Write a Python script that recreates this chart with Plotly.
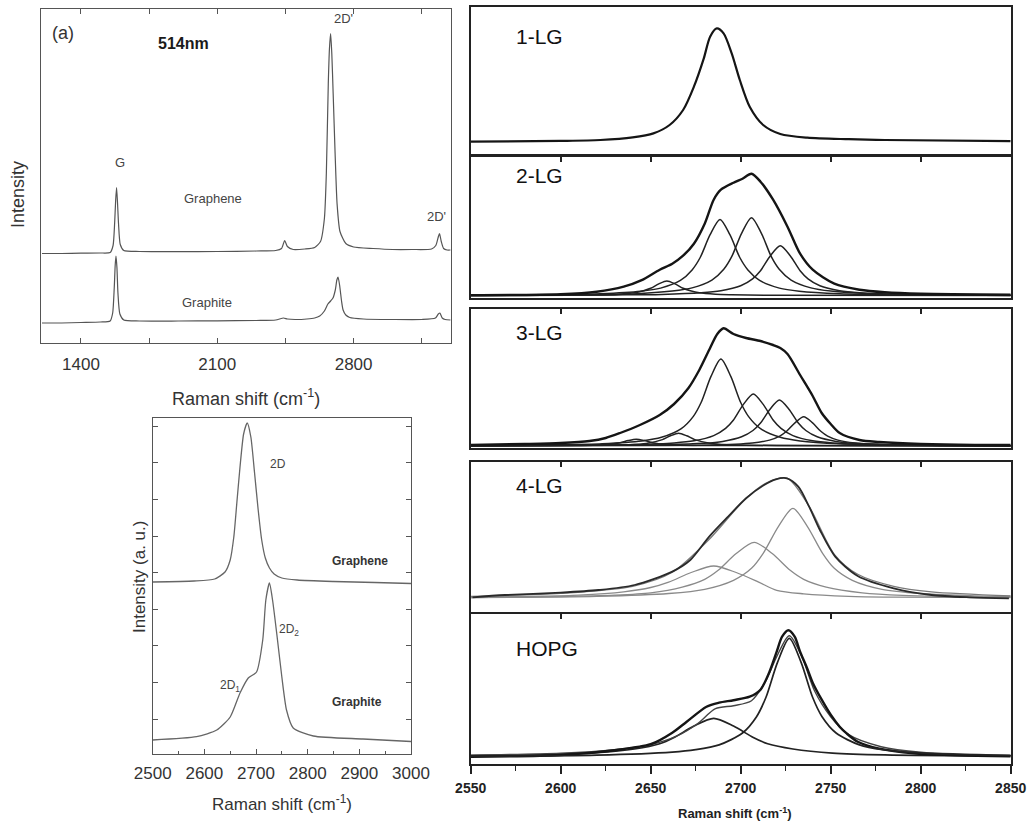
import plotly.graph_objects as go

W, H = 1031, 825
def fx(p): return p / W
def fy(p): return 1 - p / H

FONT = "Liberation Sans, Arial, sans-serif"

# ---------------- Panel (a): full spectra, 514 nm ----------------
a_graphene_x = [1200, 1300, 1400, 1500, 1550, 1565, 1573, 1578, 1583, 1588, 1593, 1602, 1620, 1700, 1900, 2100,
                2300, 2400, 2430, 2446, 2460, 2490, 2550, 2600, 2630, 2650, 2660, 2670, 2676, 2682, 2688, 2695,
                2705, 2715, 2730, 2760, 2800, 2900, 3000, 3100, 3200, 3222, 3234, 3241, 3250, 3262, 3280, 3297]
a_graphene_y = [0, 0, 0.3, 0.5, 1, 8, 30, 52, 66, 50, 30, 9, 3, 2, 1.8, 2,
                2.5, 3, 5, 13, 7, 4, 4.5, 6, 12, 35, 80, 170, 205, 220, 200, 160,
                100, 50, 22, 10, 6.5, 5, 4, 4, 4.5, 8, 16, 20, 12, 5, 3.5, 3.5]
a_graphite_x = [1200, 1300, 1400, 1500, 1550, 1563, 1571, 1576, 1580, 1585, 1590, 1600, 1620, 1700, 1900, 2100,
                2300, 2400, 2440, 2460, 2500, 2560, 2600, 2626, 2650, 2668, 2682, 2694, 2706, 2714, 2720, 2728,
                2738, 2746, 2760, 2780, 2850, 3000, 3150, 3220, 3235, 3243, 3255, 3270, 3297]
a_graphite_y = [0, 0, 0.5, 1, 2, 10, 35, 58, 67, 55, 30, 9, 3, 2, 2, 2.2,
                2.5, 3, 5, 4, 3.5, 4, 5, 7, 12, 19, 22, 25, 33, 43, 46, 38,
                22, 13, 8, 5.5, 4, 3.5, 3.5, 5, 9, 10, 5, 3.5, 3]
a_offsets = {"graphene": 89.5, "graphite": 20}

# ---------------- Panel (b): 2D band graphene vs graphite ----------------
b_graphene_x = [2500, 2580, 2620, 2640, 2650, 2657, 2663, 2669, 2676, 2683, 2690, 2697, 2704, 2711, 2718,
                2726, 2735, 2750, 2780, 2850, 2930, 3000]
b_graphene_y = [0, 1, 3, 10, 22, 45, 80, 115, 148, 159, 145, 110, 73, 42, 24,
                14, 8, 4, 2, 0.5, -0.5, -1.5]
b_graphite_x = [2500, 2585, 2624, 2650, 2669, 2685, 2701, 2713, 2719, 2726, 2732, 2740, 2750, 2759, 2772,
                2811, 2907, 3000]
b_graphite_y = [0, 3.3, 10, 23, 47, 62, 68, 100, 140, 157, 140, 107, 63, 30, 12,
                4, 1, -1.5]
b_offsets = {"graphene": 158, "graphite": 0}

# ---------------- Right: N-LG and HOPG 2D band fits ----------------
lg1_x = [2550, 2600, 2622, 2640, 2651.5, 2660.5, 2668, 2674, 2679.5, 2683, 2686.7, 2690.5, 2695, 2699.5,
         2705, 2712.5, 2722, 2737, 2760, 2780, 2850]
lg1_y = [0, 0.8, 1.7, 4.3, 8.3, 16.7, 31.7, 55, 83.3, 105, 113.3, 108.3, 88.3, 61.7,
         35, 16.7, 7.7, 4, 2.5, 1.7, 0.5]

lg2_x = [2550, 2600, 2620, 2635, 2645, 2655, 2662, 2668, 2674, 2680, 2685, 2689, 2696, 2701, 2706, 2711,
         2718, 2726, 2733, 2740, 2752, 2766, 2780, 2800, 2850]
lg2_y = [0.5, 1.5, 4, 9, 15.5, 26, 32, 40, 52, 72, 96, 106, 113, 117, 122, 114,
         96, 69, 42, 26, 12, 6, 3.5, 2, 1]
lg2_cA_x = [2550, 2605, 2623, 2632, 2641, 2646, 2650, 2654.5, 2659, 2663.5, 2668, 2672, 2677, 2686, 2695, 2713, 2850]
lg2_cA_y = [0.2, 0.5, 1.0, 1.5, 2.9, 5.0, 7.4, 11.8, 14.7, 11.8, 7.4, 5.0, 2.9, 1.5, 1.0, 0.5, 0.1]
lg2_cB_x = [2550, 2600, 2622, 2644.5, 2655.5, 2666.5, 2673, 2677.5, 2683, 2688.5, 2694, 2699.5, 2704, 2710.5,
            2721.5, 2732.5, 2755, 2790, 2850]
lg2_cB_y = [0.5, 1.2, 2.0, 4.5, 7.6, 15.3, 25.8, 38.2, 61, 76.3, 61, 38.2, 25.8, 15.3, 7.6, 4.5, 2.0, 0.9, 0.4]
lg2_cC_x = [2550, 2620, 2640, 2662, 2673, 2684, 2690.6, 2695, 2700.5, 2706, 2711.5, 2717, 2721.4, 2728,
            2739, 2750, 2772, 2800, 2850]
lg2_cC_y = [0.5, 1.0, 1.7, 4.6, 7.8, 15.6, 26.4, 39, 62.4, 78, 62.4, 39, 26.4, 15.6, 7.8, 4.6, 2.0, 1.0, 0.4]
lg2_cD_x = [2550, 2630, 2656, 2678, 2689, 2700, 2706.6, 2711, 2716.5, 2722, 2727.5, 2733, 2737.4, 2744,
            2755, 2766, 2788, 2820, 2850]
lg2_cD_y = [0.3, 0.8, 1.3, 2.9, 5.0, 10, 16.9, 25, 40, 50, 40, 25, 16.9, 10, 5.0, 2.9, 1.3, 0.6, 0.3]

lg3_x = [2550, 2580, 2600, 2616, 2625, 2633, 2644, 2655, 2663, 2671, 2677, 2683, 2687, 2690.5, 2696, 2703,
         2711, 2718, 2722, 2726, 2733, 2740, 2745, 2750, 2755, 2766, 2777, 2800, 2830, 2850]
lg3_y = [1, 2, 3, 5, 8, 13, 21, 31, 42, 58, 76, 98, 112, 117.7, 112, 108,
         105, 101, 98, 92, 71, 50, 33, 22, 13, 6, 4, 2, 1, 1]
lg3_c1_x = [2550, 2605, 2624, 2633, 2637.5, 2642, 2646.5, 2651, 2660, 2680, 2850]
lg3_c1_y = [0.1, 0.5, 1.3, 3.3, 5.4, 6.7, 5.4, 3.3, 1.3, 0.5, 0.1]
lg3_c2_x = [2550, 2610, 2638.5, 2647.5, 2656.5, 2661, 2665.5, 2670, 2674.5, 2683.5, 2692.5, 2720, 2850]
lg3_c2_y = [0.1, 0.7, 1.3, 2.5, 6.4, 10.2, 12.7, 10.2, 6.4, 2.5, 1.3, 0.5, 0.1]
lg3_c3_x = [2550, 2600, 2623, 2645, 2656, 2667, 2673.6, 2678, 2683.5, 2689, 2694.5, 2700, 2704.4, 2711,
            2722, 2733, 2755, 2790, 2850]
lg3_c3_y = [0.6, 1.3, 2.3, 5.1, 8.7, 17.4, 29.4, 43.5, 69.6, 87, 69.6, 43.5, 29.4, 17.4, 8.7, 5.1, 2.3, 1.0, 0.4]
lg3_c4_x = [2550, 2620, 2641, 2663, 2674, 2685, 2691.6, 2696, 2701.5, 2707, 2712.5, 2718, 2722.4, 2729,
            2740, 2751, 2773, 2810, 2850]
lg3_c4_y = [0.3, 0.8, 1.4, 3.1, 5.2, 10.4, 17.6, 26, 41.6, 52, 41.6, 26, 17.6, 10.4, 5.2, 3.1, 1.4, 0.6, 0.3]
lg3_c5_x = [2550, 2630, 2658.5, 2679.5, 2690, 2700.5, 2706.8, 2711, 2716.3, 2721.5, 2726.8, 2732, 2736.2,
            2742.5, 2753, 2763.5, 2784.5, 2820, 2850]
lg3_c5_y = [0.3, 0.7, 1.3, 2.7, 4.6, 9.2, 15.5, 23, 36.8, 46, 36.8, 23, 15.5, 9.2, 4.6, 2.7, 1.3, 0.6, 0.3]
lg3_c6_x = [2550, 2650, 2678, 2697, 2706.5, 2716, 2721.7, 2725.5, 2730.3, 2735, 2739.8, 2744.5, 2748.3,
            2754, 2763.5, 2773, 2792, 2850]
lg3_c6_y = [0.1, 0.4, 0.8, 1.7, 2.9, 5.9, 9.9, 14.7, 23.4, 29.3, 23.4, 14.7, 9.9, 5.9, 2.9, 1.7, 0.8, 0.2]

lg4_x = [2551, 2569, 2600, 2621, 2641, 2662, 2672, 2682.5, 2693, 2703, 2713, 2719.5, 2725.7, 2732, 2738,
         2744, 2752.5, 2765, 2785, 2806, 2827, 2849]
lg4_y = [1, 3.3, 5.7, 8.3, 13.3, 26.7, 38.3, 61.7, 81.7, 100, 113.3, 119, 120, 111.7, 91.7,
         68.3, 41.7, 22.3, 10, 3.3, 1, 0]
lg4_fit_x = [2550, 2600, 2640, 2662, 2682, 2703, 2715, 2726, 2738, 2752, 2765, 2785, 2806, 2850]
lg4_fit_y = [2, 5, 12, 26, 58, 100, 116, 120, 92, 44, 24, 12, 6.5, 2.5]
lg4_g1_x = [2550, 2585, 2610, 2635, 2650, 2660, 2672.5, 2685, 2697.5, 2710, 2720, 2735, 2760, 2785, 2850]
lg4_g1_y = [1.0, 2.0, 3.2, 6.5, 10.8, 16.2, 25.8, 32.3, 25.8, 16.2, 8, 4.5, 2, 1.2, 0.6]
lg4_g2_x = [2550, 2600, 2630, 2650, 2667.5, 2680, 2687.5, 2697.5, 2707.5, 2717.5, 2727.5, 2735, 2747.5,
            2767.5, 2790, 2850]
lg4_g2_y = [0.8, 1.8, 3.2, 5.5, 11.2, 19, 28, 44.8, 56, 44.8, 28, 19, 11.2, 5.5, 3, 1.2]
lg4_g3_x = [2550, 2620, 2660, 2680, 2696, 2706, 2712.5, 2721, 2729, 2737, 2745.5, 2752, 2762, 2778.5,
            2800, 2830, 2850]
lg4_g3_y = [0.8, 2.0, 4.8, 9.0, 18, 30, 45, 72, 90, 72, 45, 30, 18, 9.0, 4.8, 2.5, 2.0]

hopg_x = [2550, 2600, 2631, 2650, 2662, 2670, 2681, 2688, 2696, 2705, 2711, 2716, 2720, 2723, 2726.5,
          2730, 2733, 2737, 2740, 2745, 2750, 2755, 2759, 2765, 2777, 2796, 2820, 2850]
hopg_y = [0, 1.7, 6.7, 12.5, 24, 35, 50, 54, 56.5, 60, 67, 85, 105, 120, 126.5,
          120, 105, 88, 74, 57, 42, 30, 23, 15, 8, 3.3, 1.5, 0.5]
hopg_fit_x = [2550, 2600, 2630, 2650, 2665, 2676, 2686, 2696, 2706, 2714, 2720, 2727, 2734, 2741, 2750,
              2760, 2778, 2800, 2850]
hopg_fit_y = [1.5, 3.5, 7, 12, 21, 33, 48, 51, 56, 76, 100, 121, 100, 66, 40, 22, 10, 4.5, 1.5]
hopg_c1_x = [2550, 2590, 2620, 2641, 2655, 2663, 2674, 2685, 2696, 2707, 2715, 2729, 2751, 2780, 2850]
hopg_c1_y = [1.0, 2.2, 4.0, 7.7, 12.9, 19.2, 30.6, 38.3, 30.6, 19.2, 12.9, 7.7, 3.6, 1.8, 0.8]
hopg_c2_x = [2550, 2620, 2662, 2675, 2688, 2701, 2708.8, 2714, 2720.5, 2727, 2733.5, 2740, 2745.2, 2753,
             2766, 2779, 2805, 2850]
hopg_c2_y = [0.5, 1.5, 4.5, 7.0, 11.8, 23.7, 40, 59.2, 94.6, 118.3, 94.6, 59.2, 40, 23.7, 11.8, 7.0, 3.0, 1.0]

panel_labels = ["1-LG", "2-LG", "3-LG", "4-LG", "HOPG"]
r_tickvals = [2550, 2600, 2650, 2700, 2750, 2800, 2850]
r_ticktext = [f"<b>{v}</b>" for v in r_tickvals]

# ---------------- figure ----------------
fig = go.Figure()

def add(x, y, xa, ya, color, width, offset=0.0, smoothing=0.8):
    fig.add_trace(go.Scatter(
        x=x, y=[v + offset for v in y], xaxis=xa, yaxis=ya, mode="lines",
        line=dict(color=color, width=width, shape="spline", smoothing=smoothing),
        hoverinfo="skip", showlegend=False))

# panel (a)
add(a_graphene_x, a_graphene_y, "x", "y", "#555555", 1.2, a_offsets["graphene"], 0.6)
add(a_graphite_x, a_graphite_y, "x", "y", "#555555", 1.2, a_offsets["graphite"], 0.6)
# panel (b)
add(b_graphene_x, b_graphene_y, "x2", "y2", "#666666", 1.3, b_offsets["graphene"], 0.6)
add(b_graphite_x, b_graphite_y, "x2", "y2", "#666666", 1.3, b_offsets["graphite"], 0.6)
# right panels
add(lg1_x, lg1_y, "x3", "y3", "#151515", 2.2)
for cx, cy in [(lg2_cA_x, lg2_cA_y), (lg2_cB_x, lg2_cB_y), (lg2_cC_x, lg2_cC_y), (lg2_cD_x, lg2_cD_y)]:
    add(cx, cy, "x4", "y4", "#222222", 1.5)
add(lg2_x, lg2_y, "x4", "y4", "#151515", 2.4)
for cx, cy in [(lg3_c1_x, lg3_c1_y), (lg3_c2_x, lg3_c2_y), (lg3_c3_x, lg3_c3_y), (lg3_c4_x, lg3_c4_y),
               (lg3_c5_x, lg3_c5_y), (lg3_c6_x, lg3_c6_y)]:
    add(cx, cy, "x5", "y5", "#222222", 1.5)
add(lg3_x, lg3_y, "x5", "y5", "#151515", 2.4)
for cx, cy in [(lg4_g1_x, lg4_g1_y), (lg4_g2_x, lg4_g2_y), (lg4_g3_x, lg4_g3_y)]:
    add(cx, cy, "x6", "y6", "#8a8a8a", 1.3)
add(lg4_fit_x, lg4_fit_y, "x6", "y6", "#7a7a7a", 1.3)
add(lg4_x, lg4_y, "x6", "y6", "#2a2a2a", 1.8)
add(hopg_c1_x, hopg_c1_y, "x7", "y7", "#222222", 1.7)
add(hopg_c2_x, hopg_c2_y, "x8", "y7", "#222222", 1.7)
add(hopg_fit_x, hopg_fit_y, "x7", "y7", "#444444", 1.4)
add(hopg_x, hopg_y, "x7", "y7", "#151515", 2.4)

left_tick_font = dict(family=FONT, size=17, color="#333333")
frame_l = dict(showline=True, linecolor="#555555", linewidth=1.3, showgrid=False, zeroline=False,
               automargin=False)
frame_r = dict(showline=True, linecolor="#222222", linewidth=2, showgrid=False, zeroline=False,
               automargin=False)

RX = [fx(470.7), fx(1010.7)]
R_RANGE = [2550, 2850]
panel_px = [(6.7, 154), (157, 298), (309, 448), (462, 611.5), (614, 764)]
panel_yr = [[-12.3, 135], [-2.3, 138.7], [-2, 137], [-13.2, 136.3], [-7.3, 142.7]]

layout = dict(
    width=W, height=H, autosize=False, margin=dict(l=0, r=0, t=0, b=0, pad=0),
    paper_bgcolor="white", plot_bgcolor="white", showlegend=False,
    xaxis=dict(domain=[fx(41), fx(451)], range=[1195, 3300], anchor="y", mirror="ticks",
               ticks="inside", ticklen=5, tickcolor="#555555", tick0=1400, dtick=700,
               minor=dict(tick0=1400, dtick=350, ticks="inside", ticklen=5, tickcolor="#555555"),
               tickfont=left_tick_font, ticklabelstandoff=5, **frame_l),
    yaxis=dict(domain=[fy(343), fy(9)], range=[0, 334], anchor="x", mirror=True, ticks="",
               showticklabels=False, **frame_l),
    xaxis2=dict(domain=[fx(152.7), fx(411)], range=[2500, 3000], anchor="y2", mirror=True,
                tick0=2500, dtick=100, ticks="inside", ticklen=5, tickcolor="#555555",
                minor=dict(dtick=50, ticks="inside", ticklen=3, tickcolor="#555555"),
                tickfont=left_tick_font, ticklabelstandoff=3, **frame_l),
    yaxis2=dict(domain=[fy(754), fy(418)], range=[-14, 322], anchor="x2", mirror="ticks",
                tick0=21, dtick=36.6, ticks="inside", ticklen=5, tickcolor="#555555",
                showticklabels=False, **frame_l),
)

for i in range(5):
    n = i + 3
    top, bot = panel_px[i]
    xa = dict(domain=RX, range=R_RANGE, anchor=f"y{n}", mirror=True, showticklabels=False, **frame_r)
    if i == 0:
        xa.update(ticks="")
    elif i < 4:
        xa.update(side="top", ticks="inside", ticklen=5, tickwidth=1.5, tickcolor="#222222",
                  tickvals=[2600, 2650, 2700, 2750, 2800])
    else:
        xa.update(side="bottom", ticks="outside", ticklen=8, tickwidth=1.5, tickcolor="#222222",
                  tickvals=r_tickvals, ticktext=r_ticktext, showticklabels=True, ticklabelstandoff=2,
                  tickfont=dict(family=FONT, size=14, color="#222222"),
                  minor=dict(tick0=2550, dtick=25, ticks="outside", ticklen=5, tickwidth=1.2,
                             tickcolor="#222222"))
    layout[f"xaxis{n}"] = xa
    layout[f"yaxis{n}"] = dict(domain=[fy(bot), fy(top)], range=panel_yr[i], anchor=f"x{n}",
                               mirror=True, ticks="", showticklabels=False, **frame_r)

layout["xaxis8"] = dict(overlaying="x7", anchor="y7", side="top", range=R_RANGE, showline=False,
                        showgrid=False, zeroline=False, ticks="inside", ticklen=5, tickwidth=1.5,
                        tickcolor="#222222", tickvals=[2600, 2650, 2700, 2750, 2800],
                        showticklabels=False, automargin=False)

fig.update_layout(**layout)

ann = []
def txt(x, y, s, size, color="#333333", xanchor="center", angle=0, bold=False):
    ann.append(dict(x=fx(x), y=fy(y), xref="paper", yref="paper", text=f"<b>{s}</b>" if bold else s,
                    showarrow=False, xanchor=xanchor, yanchor="middle", textangle=angle,
                    font=dict(family=FONT, size=size, color=color)))

# panel (a) texts
txt(63, 33, "(a)", 18, "#333333")
txt(183, 43, "514nm", 16, "#1a1a1a", bold=True)
txt(120, 163, "G", 13, "#444444")
txt(213, 198, "Graphene", 13, "#444444")
txt(343, 18, "2D'", 13, "#444444")
txt(436, 216, "2D'", 13, "#444444")
txt(207, 302, "Graphite", 13, "#444444")
txt(246, 397, "Raman shift (cm<sup>-1</sup>)", 18, "#333333")
txt(18, 195, "Intensity", 18, "#333333", angle=-90)
# panel (b) texts
txt(278, 464, "2D", 12, "#444444")
txt(360, 561, "Graphene", 12, "#333333", bold=True)
txt(289, 630, "2D<sub>2</sub>", 12, "#444444")
txt(230, 686, "2D<sub>1</sub>", 12, "#444444")
txt(357, 702, "Graphite", 12, "#333333", bold=True)
txt(282, 803, "Raman shift (cm<sup>-1</sup>)", 17, "#333333")
txt(139, 577, "Intensity (a. u.)", 17, "#333333", angle=-90)
# right panels
for lab, yy in zip(panel_labels, [36.7, 175, 333, 485, 648]):
    txt(514, yy, lab, 21, "#111111", xanchor="left")
txt(735, 813, "Raman shift (cm<sup>-1</sup>)", 13, "#222222", bold=True)

fig.update_layout(annotations=ann)
fig.write_html("out.html")
